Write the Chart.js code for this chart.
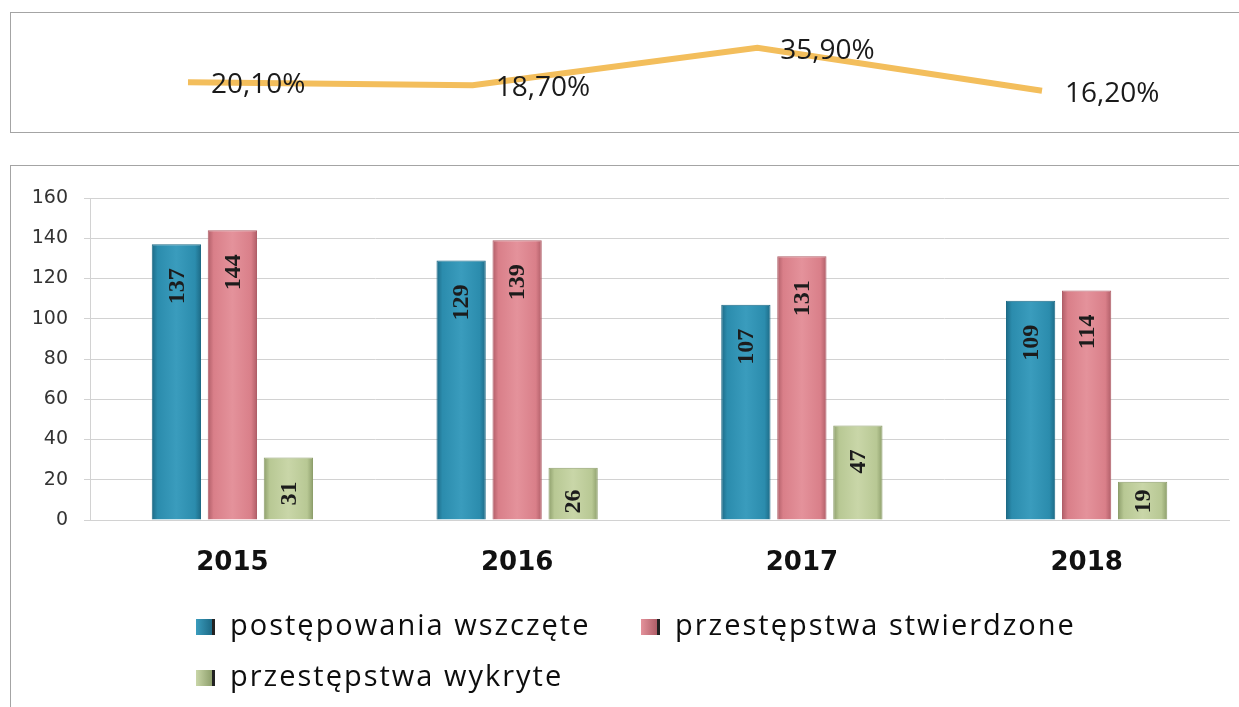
<!DOCTYPE html>
<html>
<head>
<meta charset="utf-8">
<script src="https://cdn.jsdelivr.net/npm/chart.js@4.4.1/dist/chart.umd.min.js"></script>
<style>
html,body{margin:0;padding:0;background:#fff;overflow:hidden;width:1239px;height:707px}
.box{position:absolute;border:1px solid #a4a4a4}
#topWrap{position:absolute;left:0;top:0;width:1239px;height:140px}
#barWrap{position:absolute;left:0;top:140px;width:1239px;height:567px}
</style>
</head>
<body>
<div class="box" style="left:10px;top:12px;width:1240px;height:119px"></div>
<div class="box" style="left:10px;top:165px;width:1240px;height:560px"></div>
<div id="topWrap"><canvas id="rateChart"></canvas></div>
<div id="barWrap"><canvas id="barChart"></canvas></div>
<script>
// data
var years = ["2015", "2016", "2017", "2018"];
var rate = [20.1, 18.7, 35.9, 16.2];
var wszczete = [137, 129, 107, 109];
var stwierdzone = [144, 139, 131, 114];
var wykryte = [31, 26, 47, 19];
var seriesNames = ["postępowania wszczęte", "przestępstwa stwierdzone", "przestępstwa wykryte"];
var seriesColors = ["#2B8CAD", "#D97F89", "#B8C894"];
var seriesLight = ["#3A9CBD", "#E4929B", "#C9D6A8"];
var seriesDark = ["#1D6A86", "#B05E68", "#8E9F6C"];

function pct(v) {
  return v.toFixed(2).replace(".", ",") + "%";
}

// labels next to the points of the top line
var rateLabels = {
  id: "rateLabels",
  afterDatasetsDraw: function(chart) {
    var ctx = chart.ctx;
    var meta = chart.getDatasetMeta(0);
    ctx.save();
    ctx.font = "28px 'Open Sans'";
    ctx.fillStyle = "#1a1a1a";
    ctx.textAlign = "left";
    ctx.textBaseline = "middle";
    meta.data.forEach(function(p, i) {
      ctx.fillText(pct(rate[i]), p.x + 23, p.y + 3);
    });
    ctx.restore();
  }
};

new Chart(document.getElementById("rateChart"), {
  type: "line",
  data: {
    labels: years,
    datasets: [{
      data: rate,
      borderColor: "#F3BE5C",
      borderWidth: 6,
      pointRadius: 0,
      tension: 0,
      clip: false
    }]
  },
  options: {
    responsive: true,
    maintainAspectRatio: false,
    animation: false,
    layout: { padding: { left: 188, right: 197, top: 17, bottom: 14 } },
    scales: {
      x: { display: false, offset: false },
      y: { display: false, min: 0, max: 50 }
    },
    plugins: { legend: { display: false }, tooltip: { enabled: false } }
  },
  plugins: [rateLabels]
});

// shaded bars, a bit like the 3D look of the original
var barShade = {
  id: "barShade",
  beforeDatasetsDraw: function(chart) {
    var ctx = chart.ctx;
    chart.data.datasets.forEach(function(ds, d) {
      chart.getDatasetMeta(d).data.forEach(function(bar) {
        var g = ctx.createLinearGradient(bar.x - bar.width / 2, 0, bar.x + bar.width / 2, 0);
        g.addColorStop(0, seriesDark[d]);
        g.addColorStop(0.12, seriesColors[d]);
        g.addColorStop(0.5, seriesLight[d]);
        g.addColorStop(0.88, seriesColors[d]);
        g.addColorStop(1, seriesDark[d]);
        // each bar gets its own options object, the shared one would repaint all bars
        bar.options = Object.assign({}, bar.options, { backgroundColor: g });
      });
    });
  }
};

// values written inside the bars, turned upright
var barLabels = {
  id: "barLabels",
  afterDatasetsDraw: function(chart) {
    var ctx = chart.ctx;
    ctx.save();
    ctx.font = "bold 24px 'Liberation Serif'";
    ctx.fillStyle = "#1c1c1c";
    ctx.textAlign = "right";
    ctx.textBaseline = "middle";
    chart.data.datasets.forEach(function(ds, d) {
      chart.getDatasetMeta(d).data.forEach(function(bar, i) {
        var txt = String(ds.data[i]);
        var len = ctx.measureText(txt).width;
        var h = bar.base - bar.y;
        var gap = Math.min(24, h - len - 6);
        ctx.save();
        ctx.translate(bar.x + 1, bar.y + gap);
        ctx.rotate(-Math.PI / 2);
        ctx.fillText(txt, 0, 0);
        ctx.restore();
      });
    });
    ctx.restore();
  }
};

// legend laid out like the original: two items, then one on a second row
var legendSpots = [[196, 487], [641, 487], [196, 538]];
var barLegend = {
  id: "barLegend",
  afterDraw: function(chart) {
    var ctx = chart.ctx;
    ctx.save();
    ctx.font = "29px 'Open Sans'";
    ctx.letterSpacing = "2px";
    ctx.textAlign = "left";
    ctx.textBaseline = "middle";
    chart.data.datasets.forEach(function(ds, d) {
      var s = legendSpots[d];
      var g = ctx.createLinearGradient(s[0], 0, s[0] + 16, 0);
      g.addColorStop(0, seriesLight[d]);
      g.addColorStop(1, seriesDark[d]);
      ctx.fillStyle = g;
      ctx.fillRect(s[0], s[1] - 8, 16, 16);
      ctx.fillStyle = "#222";
      ctx.fillRect(s[0] + 16, s[1] - 8, 3, 16);
      ctx.fillStyle = "#0d0d0d";
      ctx.fillText(ds.label, s[0] + 34, s[1]);
    });
    ctx.restore();
  }
};

var gridColor = "#d2d2d2";

new Chart(document.getElementById("barChart"), {
  type: "bar",
  data: {
    labels: years,
    datasets: [
      { label: seriesNames[0], data: wszczete, backgroundColor: seriesColors[0], borderColor: seriesDark[0], borderWidth: 1 },
      { label: seriesNames[1], data: stwierdzone, backgroundColor: seriesColors[1], borderColor: seriesDark[1], borderWidth: 1 },
      { label: seriesNames[2], data: wykryte, backgroundColor: seriesColors[2], borderColor: seriesDark[2], borderWidth: 1 }
    ]
  },
  options: {
    responsive: true,
    maintainAspectRatio: false,
    animation: false,
    datasets: { bar: { categoryPercentage: 0.59, barPercentage: 0.88 } },
    layout: { padding: { left: 0, right: 10, top: 58, bottom: 127 } },
    scales: {
      x: {
        grid: { display: false },
        border: { color: gridColor },
        ticks: { font: { family: "DejaVu Sans", size: 26, weight: "bold" }, color: "#111", padding: 20 },
        afterFit: function(s) { s.height = 60; }
      },
      y: {
        min: 0,
        max: 160,
        ticks: { stepSize: 20, font: { family: "DejaVu Sans", size: 19 }, color: "#333", padding: 16 },
        grid: { color: gridColor, tickLength: 6 },
        border: { color: gridColor },
        afterFit: function(s) { s.width = 90; }
      }
    },
    plugins: { legend: { display: false }, tooltip: { enabled: false } }
  },
  plugins: [barShade, barLabels, barLegend]
});
</script>
</body>
</html>
